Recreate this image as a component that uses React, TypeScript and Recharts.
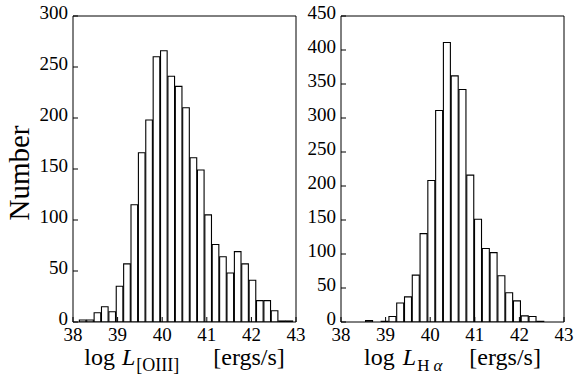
import React from 'react';
import { BarChart, Bar, XAxis, YAxis, Label } from 'recharts';

// bin centres and counts
const oiiiCenters = [38.225, 38.39, 38.556, 38.721, 38.887, 39.052, 39.218, 39.383, 39.549, 39.714, 39.88, 40.045, 40.211, 40.377, 40.542, 40.708, 40.873, 41.039, 41.204, 41.37, 41.535, 41.701, 41.866, 42.032, 42.197, 42.363, 42.528, 42.694, 42.859];
const oiiiCounts = [2, 2, 9, 15, 10, 35, 57, 115, 166, 198, 260, 266, 241, 231, 210, 161, 149, 105, 76, 64, 48, 69, 57, 41, 21, 21, 11, 1, 1];
const oiiiBinWidth = 0.1655;

const haCenters = [38.638, 38.813, 38.987, 39.162, 39.336, 39.511, 39.685, 39.86, 40.034, 40.209, 40.383, 40.558, 40.732, 40.907, 41.081, 41.256, 41.43, 41.605, 41.779, 41.954, 42.128, 42.303, 42.477];
const haCounts = [2, 0, 1, 8, 28, 37, 69, 130, 208, 311, 411, 362, 342, 216, 151, 108, 102, 68, 43, 31, 9, 8, 1];
const haBinWidth = 0.1745;

const xTicks = [38, 39, 40, 41, 42, 43];
const oiiiYTicks = [0, 50, 100, 150, 200, 250, 300];
const haYTicks = [0, 50, 100, 150, 200, 250, 300, 350, 400, 450];

const FONT = "'Liberation Serif', 'Times New Roman', serif";
const serif = { fontFamily: FONT };

const XTick = ({ x, y, payload }: any) => (
  <text x={x} y={y} dy="0.72em" textAnchor="middle" style={serif} fontSize={19} fill="#000">
    {payload.value}
  </text>
);

const YTick = ({ x, y, payload }: any) => (
  <text x={x} y={y - 3} dy="0.34em" textAnchor="end" style={serif} fontSize={19} fill="#000">
    {payload.value}
  </text>
);

const OiiiLabel = ({ viewBox }: any) => {
  const cx = viewBox.x + viewBox.width / 2;
  const y = viewBox.y + 43;
  return (
    <text x={cx} y={y} textAnchor="middle" style={serif} fontSize={24} fill="#000">
      <tspan>log</tspan>
      <tspan dx={7} fontStyle="italic">L</tspan>
      <tspan dx={1} dy={6} fontSize={18}>[OIII]</tspan>
      <tspan dx={34} dy={-6}>[ergs/s]</tspan>
    </text>
  );
};

const HaLabel = ({ viewBox }: any) => {
  const cx = viewBox.x + viewBox.width / 2;
  const y = viewBox.y + 43;
  return (
    <text x={cx} y={y} textAnchor="middle" style={serif} fontSize={24} fill="#000">
      <tspan>log</tspan>
      <tspan dx={8} fontStyle="italic">L</tspan>
      <tspan dx={1} dy={6} fontSize={17}>H</tspan>
      <tspan dx={4} fontSize={17} fontStyle="italic">α</tspan>
      <tspan dx={27} dy={-6}>[ergs/s]</tspan>
    </text>
  );
};

const NumberLabel = ({ viewBox }: any) => {
  const cx = viewBox.x + 19;
  const cy = viewBox.y + viewBox.height / 2 + 4;
  return (
    <text x={cx} y={cy} transform={`rotate(-90 ${cx} ${cy})`} textAnchor="middle" dominantBaseline="central" style={serif} fontSize={29} fill="#000">
      Number
    </text>
  );
};

interface PanelProps {
  centers: number[];
  counts: number[];
  binWidth: number;
  yTicks: number[];
  width: number;
  left: number;
  yAxisWidth: number;
  rightMargin: number;
  xLabel: React.ReactElement;
  yLabel?: boolean;
}

const Panel = ({ centers, counts, binWidth, yTicks, width, left, yAxisWidth, rightMargin, xLabel, yLabel }: PanelProps) => {
  const data = centers.map((x, i) => ({ x, n: counts[i] }));
  const plotW = width - yAxisWidth - rightMargin - 1;
  const barSize = (binWidth / (xTicks[xTicks.length - 1] - xTicks[0])) * plotW;
  const yMax = yTicks[yTicks.length - 1];
  return (
    <div style={{ position: 'absolute', left, top: 0 }}>
      <BarChart width={width} height={386} data={data} margin={{ top: 15, right: rightMargin, bottom: 0, left: 0 }} style={serif}>
        <XAxis dataKey="x" type="number" domain={[38, 43]} ticks={xTicks} allowDataOverflow
          height={64} stroke="#000" tickSize={-5} tickMargin={10} tick={<XTick />} interval={0}>
          <Label content={xLabel} />
        </XAxis>
        <XAxis xAxisId="top" orientation="top" dataKey="x" type="number" domain={[38, 43]} ticks={xTicks} allowDataOverflow
          height={1} stroke="#000" tickSize={-5} tick={false} interval={0} />
        <YAxis yAxisId="l" domain={[0, yMax]} ticks={yTicks} allowDataOverflow width={yAxisWidth}
          stroke="#000" tickSize={-5} tickMargin={10} tick={<YTick />} interval={0}>
          {yLabel && <Label content={<NumberLabel />} />}
        </YAxis>
        <YAxis yAxisId="r" orientation="right" domain={[0, yMax]} ticks={yTicks} allowDataOverflow width={1}
          stroke="#000" tickSize={-5} tick={false} interval={0} />
        <Bar dataKey="n" yAxisId="l" barSize={barSize} fill="#fff" stroke="#000" strokeWidth={1.1} isAnimationActive={false} />
      </BarChart>
    </div>
  );
};

export default function App() {
  return (
    <div style={{ position: 'absolute', left: 0, top: 0, width: 581, height: 386, background: '#fff', overflow: 'hidden' }}>
      <Panel centers={oiiiCenters} counts={oiiiCounts} binWidth={oiiiBinWidth} yTicks={oiiiYTicks}
        width={310} left={0} yAxisWidth={73} rightMargin={13} xLabel={<OiiiLabel />} yLabel />
      <Panel centers={haCenters} counts={haCounts} binWidth={haBinWidth} yTicks={haYTicks}
        width={281} left={300} yAxisWidth={41} rightMargin={16} xLabel={<HaLabel />} />
    </div>
  );
}
